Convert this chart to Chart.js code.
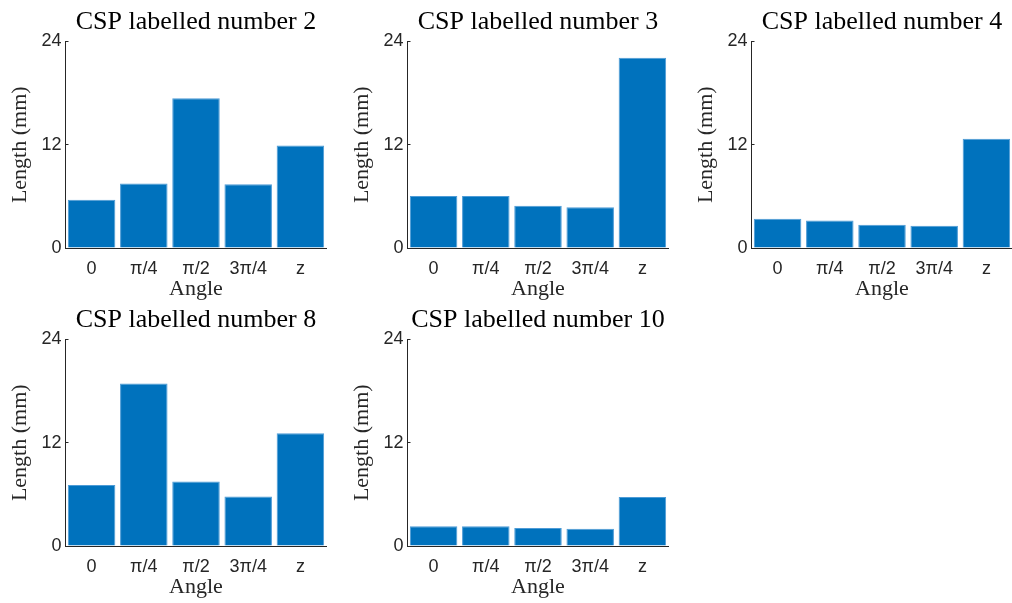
<!DOCTYPE html>
<html>
<head>
<meta charset="utf-8">
<script src="https://cdn.jsdelivr.net/npm/chart.js@4/dist/chart.umd.min.js"></script>
<style>
  body { margin: 0; background: #fff; width: 1012px; height: 603px; overflow: hidden; position: relative; }
  .cell { position: absolute; width: 340px; height: 300px; }
</style>
</head>
<body>
<div class="cell" style="left:0px;top:0px"><canvas id="c2"></canvas></div>
<div class="cell" style="left:342px;top:0px"><canvas id="c3"></canvas></div>
<div class="cell" style="left:686px;top:0px"><canvas id="c4"></canvas></div>
<div class="cell" style="left:0px;top:298px"><canvas id="c8"></canvas></div>
<div class="cell" style="left:342px;top:298px"><canvas id="c10"></canvas></div>
<script>
// data
const angles = ["0", "π/4", "π/2", "3π/4", "z"];
const csp2 = [5.6, 7.5, 17.4, 7.4, 11.9];
const csp3 = [6.05, 6.05, 4.9, 4.75, 22.1];
const csp4 = [3.4, 3.2, 2.7, 2.6, 12.7];
const csp8 = [7.1, 18.9, 7.5, 5.75, 13.1];
const csp10 = [2.3, 2.3, 2.1, 2.0, 5.7];
const yTicks = [0, 12, 24];

const AXIS = "#262626";
const BAR = "#0072BD";
const SERIF = "'Liberation Serif', 'Times New Roman', serif";
const SANS = "'Liberation Sans', Arial, sans-serif";

/* one subplot */
function drawPanel(id, num, values) {
    new Chart(document.getElementById(id), {
        type: "bar",
        data: {
            labels: angles,
            datasets: [{
                data: values,
                backgroundColor: BAR,
                borderColor: "#4d9bd6",
                borderWidth: 1,
                barPercentage: 0.91,
                categoryPercentage: 1
            }]
        },
        options: {
            responsive: false,
            animation: false,
            layout: { padding: { left: 0, right: 13.5, top: 0, bottom: 0 } },
            plugins: {
                legend: { display: false },
                tooltip: { enabled: false },
                title: {
                    display: true,
                    fullSize: false,
                    text: "CSP labelled number " + num,
                    color: "#000",
                    font: { family: SERIF, size: 26, weight: "normal", lineHeight: 1.2 },
                    padding: { top: 6.2, bottom: 4.1 }
                }
            },
            scales: {
                x: {
                    offset: true,
                    grid: { display: true, drawOnChartArea: false, drawTicks: false, color: AXIS },
                    border: { display: true, color: AXIS, width: 1 },
                    ticks: { color: AXIS, font: { family: SANS, size: 18 }, padding: 10, maxRotation: 0 },
                    title: {
                        display: true, text: "Angle", color: AXIS,
                        font: { family: SERIF, size: 22, lineHeight: 1.2 },
                        padding: { top: 0, bottom: -2.5 }
                    },
                    afterFit: s => { s.height = 52; }
                },
                y: {
                    min: 0,
                    max: 24,
                    afterBuildTicks: s => { s.ticks = yTicks.map(v => ({ value: v })); },
                    grid: { drawOnChartArea: false, drawTicks: true, tickLength: -3, color: AXIS },
                    border: { display: true, color: AXIS, width: 1 },
                    ticks: { color: AXIS, font: { family: SANS, size: 18 }, padding: 7 },
                    title: {
                        display: true, text: "Length (mm)", color: AXIS,
                        font: { family: SERIF, size: 22, lineHeight: 1.2 },
                        padding: { top: 7.5, bottom: 0 }
                    },
                    afterFit: s => { s.width = 65.5; }
                }
            }
        }
    });
}

function setup() {
    document.querySelectorAll("canvas").forEach(c => { c.width = 340; c.height = 300; });
    drawPanel("c2", 2, csp2);
    drawPanel("c3", 3, csp3);
    drawPanel("c4", 4, csp4);
    drawPanel("c8", 8, csp8);
    drawPanel("c10", 10, csp10);
}
setup();
</script>
</body>
</html>
